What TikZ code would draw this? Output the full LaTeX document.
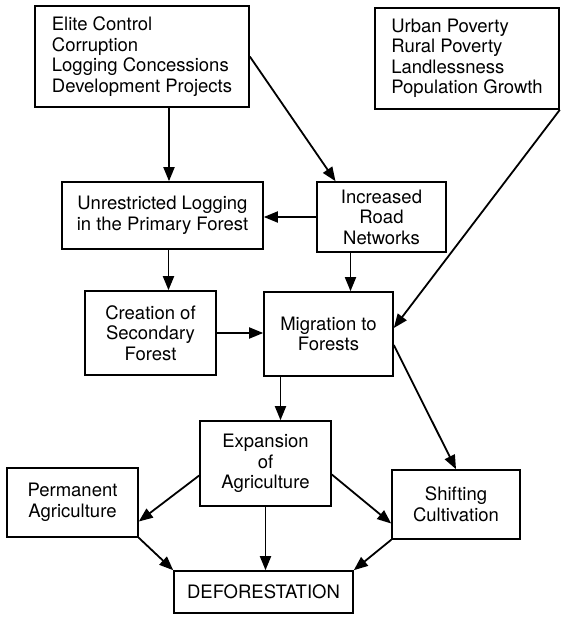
\documentclass[tikz,border=0pt]{standalone}
\usepackage{fontspec}
\setmainfont{TeX Gyre Heros}
\usetikzlibrary{arrows.meta}
\begin{document}
\begin{tikzpicture}[x=1pt,y=-1pt,
    box/.style={draw,line width=1.6pt,align=center,inner sep=2pt,
                font=\fontsize{18.5}{20.5}\selectfont},
    arr/.style={line width=1.8pt,-{Triangle[length=14pt,width=11pt]}}]
                  \useasboundingbox (0,0) rectangle (560,617);
                  % causes
                  \node (ctrl) [box,align=left,minimum width=214pt,minimum height=101pt] at (142,56.5)
                      {Elite Control\\Corruption\\Logging Concessions\\Development Projects};
                  \node (pov) [box,align=left,minimum width=184pt,minimum height=101pt] at (467,58.5)
                      {Urban Poverty\\Rural Poverty\\Landlessness\\Population Growth};
                  \node (log) [box,minimum width=201pt,minimum height=67pt] at (162.5,215.5)
                      {Unrestricted Logging\\in the Primary Forest};
                  \node (road) [box,minimum width=129pt,minimum height=70pt] at (381.5,217)
                      {Increased\\Road\\Networks};
                  \node (sec) [box,minimum width=131pt,minimum height=84pt] at (150.5,333)
                      {Creation of\\Secondary\\Forest};
                  \node (mig) [box,minimum width=129pt,minimum height=84pt] at (328.5,334)
                      {Migration to\\Forests};
                  % land use
                  \node (exp) [box,minimum width=131pt,minimum height=85pt] at (265.5,463.5)
                      {Expansion\\of\\Agriculture};
                  \node (perm) [box,minimum width=131pt,minimum height=69pt] at (72.5,502.5)
                      {Permanent\\Agriculture};
                  \node (shift) [box,minimum width=128pt,minimum height=69pt] at (456,504.5)
                      {Shifting\\Cultivation};
                  \node (def) [box,minimum width=179pt,minimum height=42pt] at (263.5,592)
                      {DEFORESTATION};
                  \begin{scope}[arr]
                      \draw ([xshift=27]ctrl.south) -- ([xshift=27]ctrl.south |- log.north);
                      \draw (ctrl.east) -- ([xshift=-46]road.north);
                      \draw (pov.south east) -- ([yshift=6]mig.east);
                      \draw (road.west) -- (road.west -| log.east);
                      \draw ([xshift=6]log.south) -- ([xshift=6]log.south |- sec.north);
                      \draw ([xshift=-31]road.south) -- ([xshift=-31]road.south |- mig.north);
                      \draw (sec.east) -- (sec.east -| mig.west);
                      \draw ([xshift=-48]mig.south) -- ([xshift=-48]mig.south |- exp.north);
                      \draw ([yshift=-11]mig.east) -- (shift.north);
                      \draw ([yshift=-12]exp.west) -- ([yshift=-19]perm.east);
                      \draw ([yshift=-11]exp.east) -- ([yshift=-19]shift.west);
                      \draw (exp.south) -- (exp.south |- def.north);
                      \draw (perm.south east) -- (def.north west);
                      \draw (shift.south west) -- (def.north east);
                  \end{scope}
              \end{tikzpicture}
\end{document}
